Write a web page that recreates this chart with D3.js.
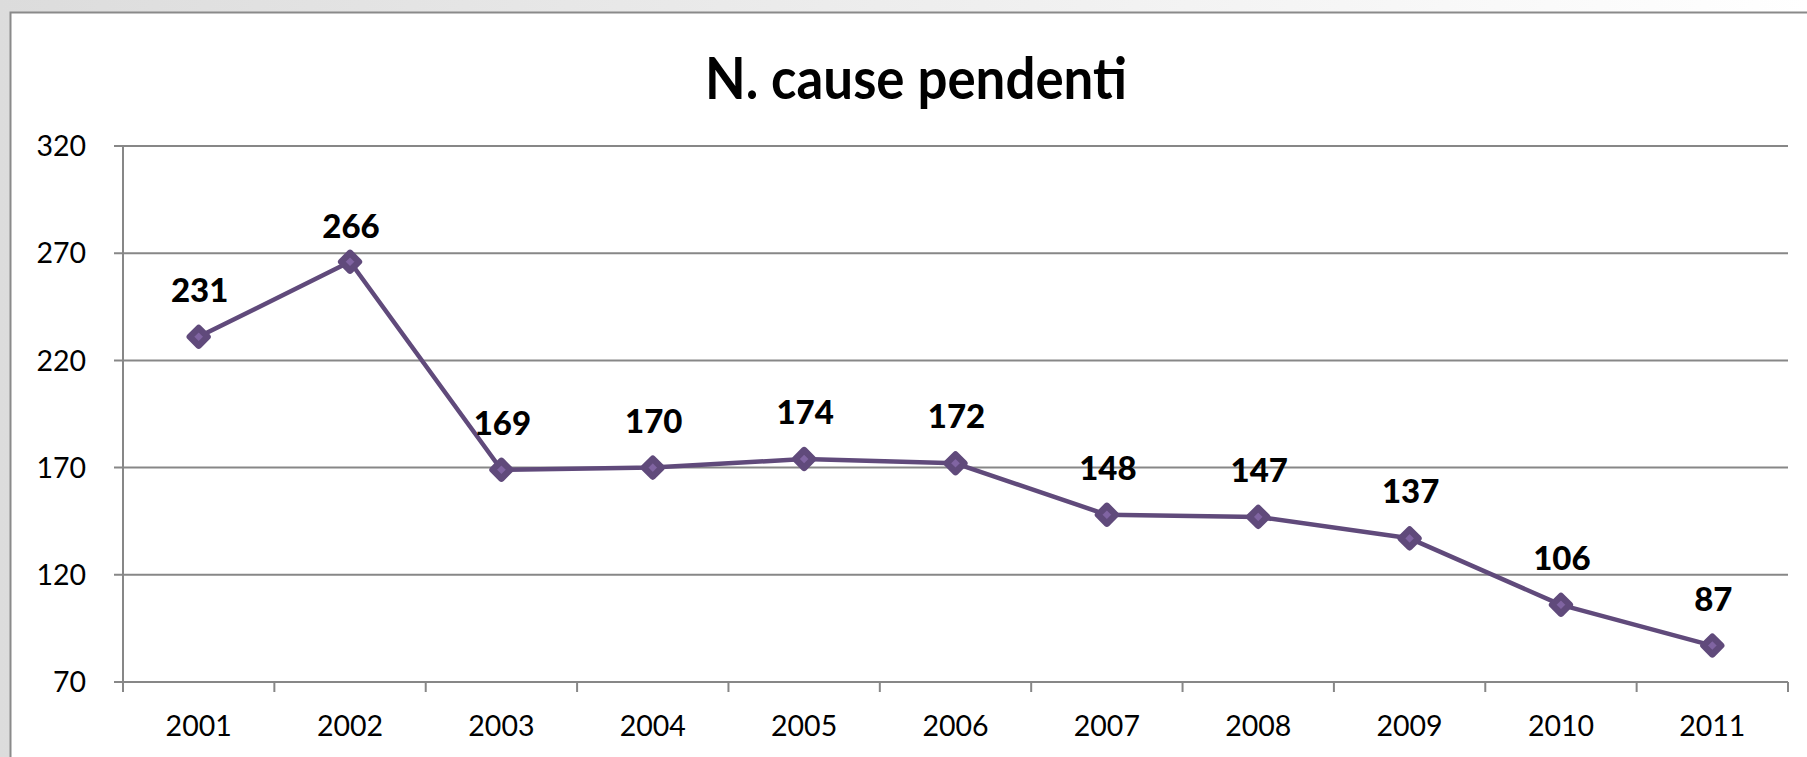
<!DOCTYPE html>
<html>
<head>
<meta charset="utf-8">
<script src="https://cdn.jsdelivr.net/npm/d3@7"></script>
<style>
    html, body { margin: 0; padding: 0; }
    body { width: 1807px; height: 757px; overflow: hidden;
           background: linear-gradient(to right, #dcdcdc, #ffffff); }
    svg { display: block; }
</style>
</head>
<body>
<svg id="chart"></svg>
<script>
const years = ["2001", "2002", "2003", "2004", "2005", "2006", "2007", "2008", "2009", "2010", "2011"];
const pendenti = [231, 266, 169, 170, 174, 172, 148, 147, 137, 106, 87];
const yTicks = [70, 120, 170, 220, 270, 320];

const width = 1807;
const height = 757;

const svg = d3.select("#chart")
    .attr("width", width)
    .attr("height", height);

const plotLeft = 123, plotRight = 1788, plotTop = 146, plotBottom = 682;
const font = "Lato, 'Open Sans', sans-serif";

// riquadro del grafico
svg.append("rect")
    .attr("x", 10.5)
    .attr("y", 12.5)
    .attr("width", width + 20)
    .attr("height", height + 20)
    .attr("fill", "#ffffff")
    .attr("stroke", "#8a8a8a")
    .attr("stroke-width", 2);

const x = d3.scaleBand()
    .domain(years)
    .range([plotLeft, plotRight])
    .padding(0);

const y = d3.scaleLinear()
    .domain([70, 320])
    .range([plotBottom, plotTop]);

// griglia
svg.append("g")
    .selectAll("line")
    .data(yTicks)
    .enter()
    .append("line")
    .attr("x1", plotLeft - 9)
    .attr("x2", plotRight)
    .attr("y1", d => y(d))
    .attr("y2", d => y(d))
    .attr("stroke", "#878787")
    .attr("stroke-width", 2);

// asse y
svg.append("line")
    .attr("x1", plotLeft)
    .attr("x2", plotLeft)
    .attr("y1", plotTop)
    .attr("y2", plotBottom + 10)
    .attr("stroke", "#878787")
    .attr("stroke-width", 2);

// tacche asse x
svg.append("g")
    .selectAll("line")
    .data(years.map(d => x(d)).concat([plotRight]))
    .enter()
    .append("line")
    .attr("x1", d => d)
    .attr("x2", d => d)
    .attr("y1", plotBottom)
    .attr("y2", plotBottom + 10)
    .attr("stroke", "#878787")
    .attr("stroke-width", 2);

svg.append("g")
    .selectAll("text")
    .data(yTicks)
    .enter()
    .append("text")
    .attr("x", 86)
    .attr("y", d => y(d))
    .attr("dy", "0.36em")
    .attr("text-anchor", "end")
    .attr("font-family", font)
    .attr("font-size", 28.5)
    .attr("fill", "#000")
    .text(d => d);

svg.append("g")
    .selectAll("text")
    .data(years)
    .enter()
    .append("text")
    .attr("x", d => x(d) + x.bandwidth() / 2)
    .attr("y", 736)
    .attr("text-anchor", "middle")
    .attr("font-family", font)
    .attr("font-size", 28.5)
    .attr("fill", "#000")
    .text(d => d);

// titolo
svg.append("text")
    .attr("x", 916)
    .attr("y", 99)
    .attr("text-anchor", "middle")
    .attr("font-family", font)
    .attr("font-weight", "bold")
    .attr("font-size", 57)
    .attr("textLength", 422)
    .attr("lengthAdjust", "spacingAndGlyphs")
    .attr("fill", "#000")
    .text("N. cause pendenti");

const cx = (d, i) => x(years[i]) + x.bandwidth() / 2;

const line = d3.line()
    .x((d, i) => cx(d, i))
    .y(d => y(d));

svg.append("path")
    .datum(pendenti)
    .attr("d", line)
    .attr("fill", "none")
    .attr("stroke", "#604a7b")
    .attr("stroke-width", 4.5)
    .attr("stroke-linejoin", "round");

const diamond = d3.symbol().type(d3.symbolDiamond2).size(200);

svg.append("g")
    .selectAll("path")
    .data(pendenti)
    .enter()
    .append("path")
    .attr("d", diamond)
    .attr("transform", (d, i) => `translate(${cx(d, i)},${y(d)})`)
    .attr("fill", "#8064a2")
    .attr("stroke", "#604a7b")
    .attr("stroke-width", 6.5)
    .attr("stroke-linejoin", "round");

// etichette dati (2002 spostata a mano come nell'originale)
const labelNudge = { "2002": 11 };

svg.append("g")
    .selectAll("text")
    .data(pendenti)
    .enter()
    .append("text")
    .attr("x", (d, i) => cx(d, i) + 1)
    .attr("y", (d, i) => y(d) - 35 + (labelNudge[years[i]] || 0))
    .attr("text-anchor", "middle")
    .attr("font-family", font)
    .attr("font-weight", "900")
    .attr("font-size", 33)
    .attr("fill", "#000")
    .text(d => d);
</script>
</body>
</html>
